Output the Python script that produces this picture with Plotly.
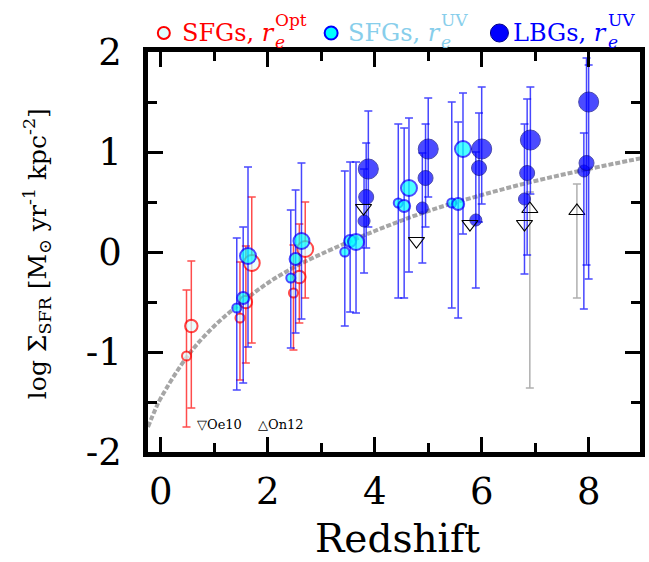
import plotly.graph_objects as go

# ---------------- data ----------------
# SFGs, r_e^Opt (red open circles)
opt_z = [0.48, 0.57, 1.48, 1.59, 1.70, 2.48, 2.59, 2.70]
opt_y = [-1.04, -0.74, -0.66, -0.50, -0.11, -0.41, -0.25, 0.03]
opt_hi = [-0.38, -0.09, -0.10, 0.06, 0.55, 0.07, 0.28, 0.50]
opt_lo = [-1.75, -1.56, -1.28, -1.11, -0.91, -0.98, -0.71, -0.46]
opt_bin = [0, 1, 0, 1, 2, 0, 1, 2]

# SFGs, r_e^UV (cyan circles)
uv_z = [1.42, 1.54, 1.63, 2.43, 2.52, 2.63, 3.44, 3.54, 3.65, 4.44, 4.55, 4.64, 5.44, 5.56, 5.65]
uv_y = [-0.56, -0.46, -0.04, -0.26, -0.07, 0.11, 0.00, 0.11, 0.10, 0.49, 0.46, 0.64, 0.49, 0.48, 1.03]
uv_hi = [0.14, 0.25, 0.85, 0.42, 0.62, 0.89, 0.81, 0.90, 0.90, 1.28, 1.24, 1.34, 1.50, 1.30, 1.59]
uv_lo = [-1.38, -1.31, -0.95, -0.96, -0.81, -0.67, -0.74, -0.60, -0.61, -0.46, -0.46, -0.20, -0.56, -0.66, 0.18]
uv_bin = [0, 1, 2, 0, 1, 2, 0, 1, 2, 0, 1, 2, 0, 1, 2]

# LBGs, r_e^UV (blue filled circles)
lbg_z = [3.80, 3.84, 3.88, 4.89, 4.95, 5.00, 5.89, 5.95, 6.00, 6.80, 6.85, 6.91, 7.91, 7.96, 8.00]
lbg_y = [0.31, 0.55, 0.83, 0.44, 0.74, 1.03, 0.32, 0.84, 1.03, 0.53, 0.79, 1.12, 0.81, 0.89, 1.50]
lbg_hi = [0.83, 1.09, 1.41, 0.99, 1.28, 1.54, 1.00, 1.39, 1.65, 1.28, 1.53, 1.65, 1.19, 1.94, 1.87]
lbg_lo = [-0.21, 0.04, 0.25, -0.11, 0.25, 0.55, -0.36, 0.30, 0.48, -0.22, -0.03, 0.58, -0.57, -0.13, -0.27]
lbg_bin = [0, 1, 2, 0, 1, 2, 0, 1, 2, 0, 1, 2, 0, 1, 2]

# Oe10 (down triangles) and On12 (up triangles)
oe10_z = [3.79, 4.78, 5.78, 6.80]
oe10_y = [0.44, 0.11, 0.28, 0.28]
on12_z = [6.90, 7.78]
on12_y = [0.43, 0.41]
on12_hi = [0.60, 0.68]
on12_lo = [-1.36, -0.46]

# dashed model curve
curve_z = [-0.24, -0.1, 0.0, 0.5, 1.0, 1.5, 2.0, 2.5, 3.0, 4.0, 5.0, 6.0, 7.0, 8.0, 9.0]
curve_y = [-1.75, -1.57, -1.46, -1.04, -0.74, -0.51, -0.31, -0.15, -0.02, 0.21, 0.41, 0.57, 0.71, 0.83, 0.94]

x_ticks = [0, 2, 4, 6, 8]
y_ticks = [-2, -1, 0, 1, 2]
y_ticklabels = ["-2", "-1", "0", "1", "2"]

# ---------------- styles ----------------
SERIF = "DejaVu Serif"
size_opt = [9, 12.5, 16]
size_uv = [9, 12, 16]
size_lbg = [12, 15, 20]


def up(v, hi):
    return [h - a for a, h in zip(v, hi)]


def down(v, lo):
    return [a - l for a, l in zip(v, lo)]


fig = go.Figure()

fig.add_trace(go.Scatter(
    x=curve_z, y=curve_y, mode="lines", line_shape="spline",
    line=dict(color="#a6a6a6", width=4, dash="5px,2px"),
    hoverinfo="skip", showlegend=False))

fig.add_trace(go.Scatter(
    x=on12_z, y=on12_y, mode="markers",
    marker=dict(symbol="triangle-up-open", size=14, color="black", line=dict(width=1.2)),
    error_y=dict(type="data", symmetric=False, array=up(on12_y, on12_hi),
                 arrayminus=down(on12_y, on12_lo), color="#b0b0b0", thickness=1.5, width=4),
    showlegend=False))

fig.add_trace(go.Scatter(
    x=opt_z, y=opt_y, mode="markers",
    marker=dict(size=[size_opt[b] for b in opt_bin], color="#e0ffff",
                line=dict(color="#ff0000", width=2)),
    error_y=dict(type="data", symmetric=False, array=up(opt_y, opt_hi),
                 arrayminus=down(opt_y, opt_lo), color="rgba(255,0,0,0.7)", thickness=1.5, width=4),
    showlegend=False))

fig.add_trace(go.Scatter(
    x=uv_z, y=uv_y, mode="markers",
    marker=dict(size=[size_uv[b] for b in uv_bin], color="#00ffff",
                line=dict(color="#0000ff", width=2)),
    error_y=dict(type="data", symmetric=False, array=up(uv_y, uv_hi),
                 arrayminus=down(uv_y, uv_lo), color="rgba(0,0,255,0.72)", thickness=1.5, width=4),
    showlegend=False))

fig.add_trace(go.Scatter(
    x=lbg_z, y=lbg_y, mode="markers",
    marker=dict(size=[size_lbg[b] for b in lbg_bin], color="#0000ff",
                line=dict(color="#00008b", width=1)),
    error_y=dict(type="data", symmetric=False, array=up(lbg_y, lbg_hi),
                 arrayminus=down(lbg_y, lbg_lo), color="rgba(0,0,255,0.72)", thickness=1.5, width=4),
    showlegend=False))

fig.add_trace(go.Scatter(
    x=oe10_z, y=oe10_y, mode="markers",
    marker=dict(symbol="triangle-down-open", size=14, color="black", line=dict(width=1.2)),
    showlegend=False))

# ---------------- layout ----------------
W, H = 649, 562
L, R, T, B = 148, 4, 52, 110
pw, ph = W - L - R, H - T - B


def px(xp):
    return (xp - L) / pw


def py(yp):
    return (H - B - yp) / ph


axis_common = dict(
    showline=True, linecolor="black", linewidth=4.5, mirror="allticks",
    ticks="inside", tickcolor="black", tickwidth=3, ticklen=15,
    showgrid=False, zeroline=False,
    tickfont=dict(family=SERIF, size=37, color="black"),
)

fig.update_layout(
    width=W, height=H,
    margin=dict(l=L, r=R, t=T, b=B, pad=0),
    paper_bgcolor="white", plot_bgcolor="white",
    showlegend=False,
    xaxis=dict(range=[-0.24, 8.96], tickvals=x_ticks, ticklabelstandoff=3,
               minor=dict(tickvals=[1, 3, 5, 7], ticks="inside", ticklen=9,
                          tickwidth=3, tickcolor="black", showgrid=False),
               **axis_common),
    yaxis=dict(range=[-2, 2], tickvals=y_ticks, ticktext=y_ticklabels, ticklabelstandoff=14,
               minor=dict(tickvals=[-1.5, -0.5, 0.5, 1.5], ticks="inside", ticklen=9,
                          tickwidth=3, tickcolor="black", showgrid=False),
               **axis_common),
)

ann = []
# axis titles
ann.append(dict(text="Redshift", x=px(L + pw / 2 + 4), y=py(562), xref="paper", yref="paper",
                xanchor="center", yanchor="bottom", borderpad=0,
                showarrow=False, font=dict(family=SERIF, size=39, color="black")))
ann.append(dict(text="log Σ<sub>SFR</sub> [M<sub>⊙</sub> yr<sup>-1</sup> kpc<sup>-2</sup>]",
                x=px(36), y=py(254), xref="paper", yref="paper", textangle=-90,
                xanchor="center", yanchor="middle",
                showarrow=False, font=dict(family=SERIF, size=25, color="black")))

# legend text (with stacked sub/superscripts)
legend_items = [
    (164, "#ff0000", 12, "SFGs, <i>r</i>", 181, "Opt", 275),
    (333, "#87ceeb", 13, "SFGs, <i>r</i>", 349, "UV", 443),
    (503, "#0000ff", 18, "LBGs, <i>r</i>", 516, "UV", 612),
]
shapes = []
for cx, col, d, txt, tx, sup, sx in legend_items:
    if col == "#ff0000":
        fill, edge, lw = "#e0ffff", "#ff0000", 2
    elif col == "#87ceeb":
        fill, edge, lw = "#00ffff", "#0000ff", 2
    else:
        fill, edge, lw = "#0000ff", "#00008b", 1
    shapes.append(dict(type="circle", xref="paper", yref="paper", xsizemode="pixel",
                       ysizemode="pixel", xanchor=px(cx), yanchor=py(33),
                       x0=-d / 2, x1=d / 2, y0=-d / 2, y1=d / 2,
                       fillcolor=fill, line=dict(color=edge, width=lw)))
    ann.append(dict(text=txt, x=px(tx), y=py(33), xref="paper", yref="paper",
                    xanchor="left", yanchor="middle", showarrow=False, borderpad=0,
                    font=dict(family=SERIF, size=24, color=col)))
    ann.append(dict(text=sup + "<br><i>e</i>", x=px(sx), y=py(31), xref="paper", yref="paper",
                    xanchor="left", yanchor="middle", align="left", showarrow=False, borderpad=0,
                    font=dict(family=SERIF, size=17, color=col)))

# reference markers text
ann.append(dict(text="▽Oe10", x=0.63, y=-1.72, xref="x", yref="y", xanchor="left",
                yanchor="middle",
                showarrow=False, font=dict(family=SERIF, size=13, color="black")))
ann.append(dict(text="△On12", x=1.78, y=-1.72, xref="x", yref="y", xanchor="left",
                yanchor="middle",
                showarrow=False, font=dict(family=SERIF, size=13, color="black")))

fig.update_layout(annotations=ann, shapes=shapes)

fig.write_html("out.html")
